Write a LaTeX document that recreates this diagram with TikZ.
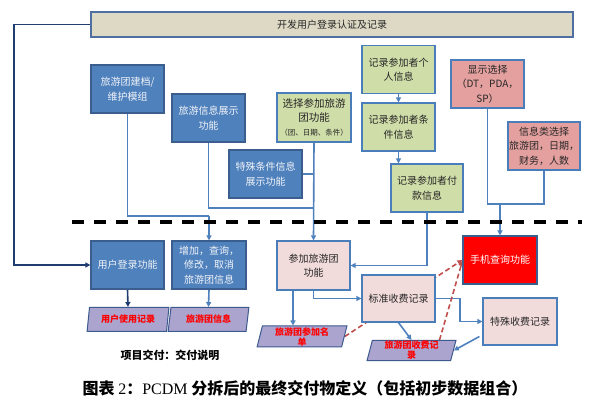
\documentclass[tikz,border=0pt]{standalone}
\usepackage{fontspec}
\setmainfont{Noto Sans CJK SC}
\newfontfamily\latinserif{Liberation Serif}
\usetikzlibrary{arrows.meta,shapes.geometric}
\pgfdeclarelayer{bg}
\pgfsetlayers{bg,main}
\definecolor{boxblue}{HTML}{4F81BD}
\definecolor{blueborder}{HTML}{3A5F8F}
\definecolor{boxgreen}{HTML}{CFDDA8}
\definecolor{boxpink}{HTML}{F2DCDB}
\definecolor{boxrose}{HTML}{E3A09E}
\definecolor{parafill}{HTML}{ABA4CF}
\definecolor{paraborder}{HTML}{3C5A8E}
\definecolor{bannerfill}{HTML}{DDD9C4}
\definecolor{bannerborder}{HTML}{4F6FA0}
\definecolor{lineblue}{HTML}{4F81BD}
\definecolor{navyline}{HTML}{1F3D70}
\definecolor{dashred}{HTML}{C0504D}
\definecolor{darktext}{HTML}{262626}
\definecolor{lighttext}{HTML}{F2F4F8}
\definecolor{sideborder}{HTML}{4A7EBB}
\tikzset{
 box/.style={draw=sideborder, line width=1.2pt, minimum width=73pt, minimum height=48pt, inner sep=1pt, align=center, font=\fontsize{10}{14.5}\selectfont},
 bluebox/.style={box, fill=boxblue, draw=blueborder, text=lighttext},
 greenbox/.style={box, fill=boxgreen, text=darktext},
 pinkbox/.style={box, fill=boxpink, text=darktext},
 rosebox/.style={box, fill=boxrose, text=darktext},
 redbox/.style={box, fill=red, draw=blueborder, text=white},
 para/.style={trapezium, trapezium left angle=79, trapezium right angle=101, trapezium stretches=true, draw=paraborder, fill=parafill, line width=1pt, minimum height=24pt, inner sep=0pt, align=center, text=red, font=\bfseries\fontsize{9}{10}\selectfont},
 conn/.style={draw=lineblue, line width=1.6pt},
 arr/.style={conn, -{Triangle[length=5pt,width=5pt]}},
 navy/.style={draw=navyline, line width=1.6pt},
 navyarr/.style={navy, -{Triangle[length=5pt,width=5pt]}},
 reddash/.style={draw=dashred, line width=1.6pt, dash pattern=on 5pt off 3pt, -{Triangle[length=5pt,width=5pt]}},
}
\begin{document}
\begin{tikzpicture}[x=1pt,y=-1pt]
\useasboundingbox (0,0) rectangle (590,401);
\begin{pgfonlayer}{bg}
\fill[white] (0,0) rectangle (590,401);
\end{pgfonlayer}
% top banner
\node[fill=bannerfill, draw=bannerborder, line width=1.2pt, minimum width=482pt, minimum height=25pt, font=\fontsize{10}{12}\selectfont, text=darktext] (banner) at (332,24.5) {开发用户登录认证及记录};
% upper boxes
\node[bluebox] (jd) at (127.5,89) {旅游团建档/\\维护模组};
\node[bluebox] (xs) at (208.5,118) {旅游信息展示\\功能};
\node[bluebox] (ts) at (265.5,174) {特殊条件信息\\展示功能};
\node[greenbox, minimum width=74pt, minimum height=49pt, font=\fontsize{10.5}{14}\selectfont] (xz) at (314,117.5) {选择参加旅游\\团功能\\{\fontsize{7.5}{9}\selectfont （团、日期、条件）}};
\node[greenbox] (gr) at (398.5,69.5) {记录参加者个\\人信息};
\node[greenbox] (tj) at (398.5,127) {记录参加者条\\件信息};
\node[greenbox, minimum width=72pt] (fk) at (427,188) {记录参加者付\\款信息};
\node[rosebox] (xsxz) at (487.5,84) {显示选择\\（DT，PDA，\\SP）};
\node[rosebox, minimum width=72pt] (xxl) at (544,146) {信息类选择\\旅游团，日期，\\财务，人数};
% divider
\coordinate (d1) at (72,222);
\coordinate (d2) at (582,222);
\draw[black, line width=3.5pt, dash pattern=on 12pt off 10pt] (d1) -- (d2);
% lower boxes
\node[bluebox] (dl) at (127.5,265) {用户登录功能};
\node[bluebox, minimum width=74pt] (zj) at (209,265) {增加，查询，\\修改，取消\\旅游团信息};
\node[pinkbox, minimum height=49pt] (cj) at (313.5,265.5) {参加旅游团\\功能};
\node[pinkbox, minimum height=47pt] (bz) at (398.5,298.5) {标准收费记录};
\node[redbox, minimum width=74pt] (sj) at (500,260) {手机查询功能};
\node[pinkbox, minimum width=74pt, minimum height=47pt] (tsf) at (520,321.5) {特殊收费记录};
% data stores
\node[para, minimum width=82pt] (p1) at (128,319.5) {用户使用记录};
\node[para, minimum width=81pt] (p2) at (208.5,319.5) {旅游团信息};
\node[para, minimum width=90pt, minimum height=21pt] (p3) at (302,336.5) {旅游团参加名\\单};
\node[para, minimum width=89pt, minimum height=20pt] (p4) at (411.5,350.5) {旅游团收费记\\录};
% texts
\node[font=\bfseries\fontsize{11}{13}\selectfont, text=black] (jf) at (170,355) {项目交付：交付说明};
\node[font=\bfseries\fontsize{16}{18}\selectfont, text=black] (cap) at (305,388) {图表 {\latinserif\mdseries 2}：{\latinserif\mdseries PCDM} 分拆后的最终交付物定义（包括初步数据组合）};
% connectors
\coordinate (lc) at (14,24.5);
\coordinate (c1) at (209,216);
\coordinate (c2) at (314,208);
\coordinate (c3) at (500,204);
\coordinate (c4) at (460,298.5);
\begin{pgfonlayer}{bg}
\draw[navyarr] (banner.west) -- (lc) |- (dl.west);
\draw[navyarr] (dl.south) -- (p1.north);
\draw[conn] (jd.south) |- (c1);
\draw[arr] (c1) -- (zj.north);
\draw[arr] (zj.south) -- (p2.north);
\draw[conn] (xs.south) |- (c2);
\draw[conn] (ts.east) -- (ts.east -| xz.south);
\draw[arr] (xz.south) -- (cj.north);
\draw[arr] (gr.south) -- (tj.north);
\draw[arr] (tj.south) -- (tj.south |- fk.north);
\draw[arr] (fk.south) |- (cj.east);
\draw[conn] (xsxz.south) |- (c3) -| (xxl.south);
\draw[arr] (c3) -- (sj.north);
\draw[arr] ([xshift=-20.5pt]cj.south) -- ([xshift=-20.5pt]cj.south |- p3.north);
\draw[arr] (cj.south) |- (bz.west);
\draw[arr] (bz.south) -- (p4.north);
\draw[arr] (bz.east) -- (c4) |- (tsf.west);
\draw[arr] ([shift={(-3pt,-15pt)}]tsf.west) -- (p4.east);
\draw[reddash] (p3.east) -- (sj.west);
\draw[reddash] ([xshift=28pt]p4.north) -- ([yshift=-1pt]sj.west);
\end{pgfonlayer}
\end{tikzpicture}
\end{document}
